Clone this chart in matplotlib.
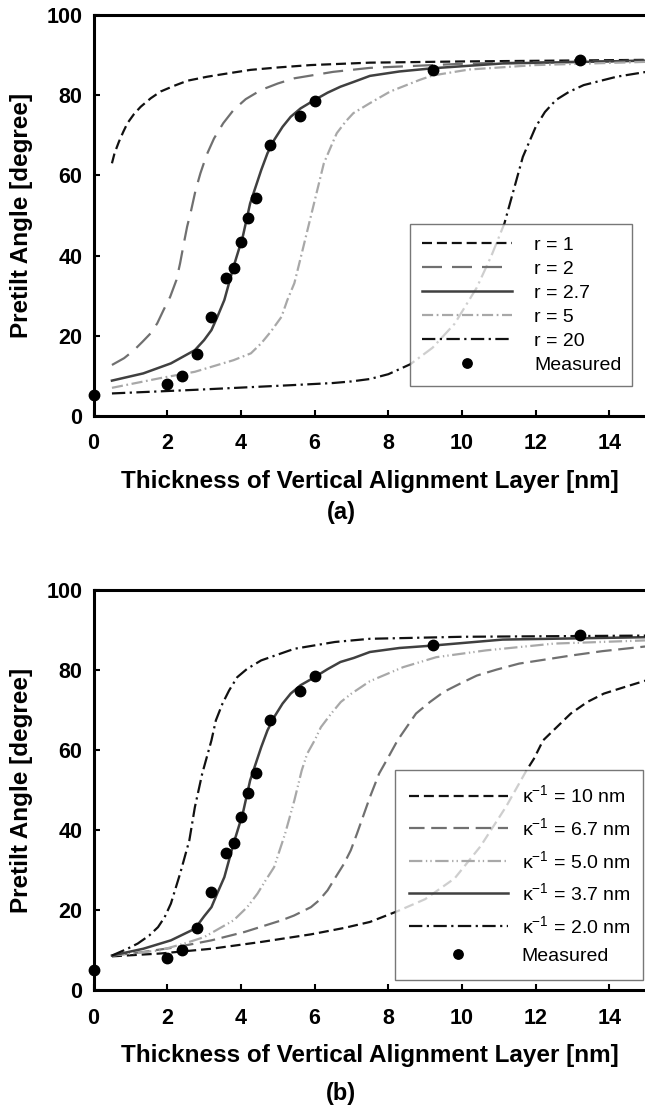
import numpy as np
import matplotlib
matplotlib.use('Agg')
import matplotlib.pyplot as plt

plt.rcParams['font.family'] = ['Liberation Sans', 'DejaVu Sans']
plt.rcParams['mathtext.fontset'] = 'custom'
plt.rcParams['mathtext.rm'] = 'Liberation Sans'
plt.rcParams['mathtext.it'] = 'Liberation Sans'
plt.rcParams['mathtext.default'] = 'regular'

## measured pretilt angle (same in both panels)
meas_x = [0, 2.0, 2.4, 2.8, 3.2, 3.6, 3.8, 4.0, 4.2, 4.4, 4.8, 5.6, 6.0, 9.2, 13.2]
meas_y = [5.1, 8.0, 10.0, 15.5, 24.7, 34.3, 36.8, 43.4, 49.3, 54.3, 67.6, 74.9, 78.5, 86.3, 88.8]

## panel (a): different r
x_r1 = [0.5, 0.57, 0.69, 0.81, 0.92, 1.1, 1.28, 1.55, 1.82, 2.18, 2.55, 3.09, 3.63, 4.26, 5.0, 5.9, 7.5, 10.0, 12.5, 15.0]
y_r1 = [63.0, 65.5, 68.4, 70.9, 73.0, 75.3, 77.1, 79.2, 80.9, 82.3, 83.6, 84.6, 85.4, 86.3, 86.9, 87.5, 88.1, 88.4, 88.6, 88.8]

x_r2 = [0.5, 0.83, 1.1, 1.33, 1.55, 1.73, 1.9, 2.08, 2.25, 2.35, 2.45, 2.54, 2.65, 2.77, 2.9, 3.07, 3.27,
        3.52, 3.8, 4.13, 4.55, 5.0, 5.45, 6.5, 7.5, 10.2, 15.0]
y_r2 = [12.7, 14.4, 16.4, 18.5, 20.6, 23.1, 26.4, 29.7, 33.9, 38.1, 43.0, 47.2, 51.3, 56.3, 60.5, 65.1, 69.2,
        73.0, 76.3, 79.0, 81.3, 82.9, 84.2, 85.8, 86.8, 87.9, 88.6]

x_r27 = [0.5, 1.35, 2.1, 2.75, 3.0, 3.2, 3.36, 3.55, 3.8, 4.05, 4.25, 4.55, 4.72, 4.9, 5.13, 5.35, 5.62,
         6.0, 6.35, 6.7, 7.06, 7.5, 8.3, 9.2, 11.1, 15.0]
y_r27 = [8.8, 10.6, 13.1, 16.4, 18.9, 21.4, 24.7, 28.9, 37.2, 44.7, 53.0, 61.3, 65.5, 68.8, 72.1, 74.6, 76.7,
         78.8, 80.6, 82.1, 83.3, 84.8, 85.9, 86.7, 87.9, 88.6]

x_r5 = [0.5, 1.8, 2.75, 3.8, 4.27, 4.55, 4.81, 5.1, 5.26, 5.45, 5.65, 5.85, 6.05, 6.25, 6.44, 6.6, 6.84,
        7.05, 7.5, 8.05, 8.85, 9.2, 10.2, 12.0, 15.0]
y_r5 = [7.0, 9.4, 11.0, 13.9, 15.6, 18.1, 21.0, 24.7, 28.9, 33.1, 40.5, 48.0, 55.5, 63.0, 67.1, 70.5, 73.4,
        75.5, 78.0, 80.9, 83.8, 84.9, 86.4, 87.5, 88.3]

x_r20 = [0.5, 2.75, 5.45, 6.5, 7.0, 7.5, 8.0, 8.6, 9.2, 9.8, 10.4, 10.8, 11.15, 11.4, 11.65, 12.0, 12.25,
         12.55, 12.9, 13.3, 14.2, 15.0]
y_r20 = [5.6, 6.5, 7.7, 8.2, 8.6, 9.2, 10.4, 12.9, 17.0, 23.0, 32.0, 40.0, 48.0, 56.3, 64.6, 72.1, 75.8,
         78.8, 80.8, 82.5, 84.6, 85.8]

## panel (b): different screening length
x_k10 = [0.5, 1.8, 3.2, 4.55, 5.9, 6.8, 7.5, 8.25, 9.0, 9.8, 10.5, 11.2, 11.75, 11.95, 12.2, 12.95, 13.4,
         13.85, 14.4, 15.0]
y_k10 = [8.5, 9.2, 10.4, 12.1, 14.0, 15.6, 17.1, 19.8, 22.8, 28.0, 36.0, 46.0, 55.0, 57.9, 62.5, 69.2, 72.1,
         74.2, 75.8, 77.5]

x_k67 = [0.5, 1.35, 2.25, 3.2, 4.1, 5.1, 5.44, 5.9, 6.12, 6.35, 6.57, 6.8, 6.98, 7.15, 7.5, 7.75, 8.0,
         8.25, 8.75, 9.13, 9.5, 9.95, 10.4, 10.94, 11.55, 12.95, 13.8, 15.0]
y_k67 = [8.7, 9.6, 10.8, 12.5, 14.6, 17.5, 18.7, 20.8, 22.5, 25.0, 28.3, 31.7, 35.0, 39.2, 48.3, 54.2, 58.3,
         62.5, 69.2, 72.1, 74.6, 76.7, 78.7, 80.2, 81.7, 83.7, 84.8, 86.0]

x_k50 = [0.5, 1.8, 2.46, 3.0, 3.8, 4.17, 4.45, 4.67, 4.9, 5.2, 5.45, 5.65, 5.8, 6.0, 6.17, 6.45, 6.71,
         7.0, 7.5, 8.4, 9.3, 10.65, 12.5, 15.0]
y_k50 = [8.7, 10.0, 11.7, 13.3, 17.5, 20.8, 24.2, 27.5, 30.8, 39.2, 47.5, 55.0, 59.2, 62.5, 65.8, 69.2, 72.1,
         74.2, 77.3, 80.8, 83.3, 85.0, 86.7, 87.5]

x_k37 = [0.5, 1.35, 2.1, 2.75, 3.0, 3.2, 3.36, 3.55, 3.8, 4.05, 4.25, 4.55, 4.72, 4.9, 5.13, 5.35, 5.62,
         6.0, 6.35, 6.7, 7.06, 7.5, 8.3, 9.2, 11.1, 15.0]
y_k37 = [8.7, 10.4, 12.5, 15.4, 18.5, 20.8, 24.3, 28.3, 36.7, 44.2, 52.5, 60.8, 65.0, 68.3, 71.7, 74.2, 76.3,
         78.3, 80.3, 82.1, 83.1, 84.6, 85.6, 86.2, 87.7, 88.3]

x_k20 = [0.5, 0.92, 1.2, 1.51, 1.75, 1.93, 2.1, 2.35, 2.6, 2.75, 2.95, 3.2, 3.32, 3.5, 3.68, 3.9, 4.17,
         4.55, 5.45, 6.55, 7.5, 10.0, 15.0]
y_k20 = [8.7, 10.4, 11.7, 13.7, 15.8, 18.3, 21.7, 29.2, 37.5, 45.8, 54.2, 62.5, 67.5, 71.7, 75.0, 78.3, 80.4,
         82.5, 85.4, 87.1, 87.9, 88.4, 88.7]

labels_a = ['r = 1', 'r = 2', 'r = 2.7', 'r = 5', 'r = 20']
labels_b = [r'$\kappa^{-1}$ = 10 nm', r'$\kappa^{-1}$ = 6.7 nm', r'$\kappa^{-1}$ = 5.0 nm',
            r'$\kappa^{-1}$ = 3.7 nm', r'$\kappa^{-1}$ = 2.0 nm']

fig = plt.figure(figsize=(6.45, 11.15), dpi=100)
ax1 = fig.add_axes([0.145, 0.627, 0.857, 0.3596])
ax2 = fig.add_axes([0.145, 0.1118, 0.857, 0.3587])

lw = 1.6
black, mid, dark, light = '#111111', '#707070', '#404040', '#a8a8a8'

# panel (a)
ax1.plot(x_r1, y_r1, color=black, lw=lw, dashes=(4.5, 2.2), label=labels_a[0])
ax1.plot(x_r2, y_r2, color=mid, lw=lw, dashes=(9, 4.5), label=labels_a[1])
ax1.plot(x_r27, y_r27, color=dark, lw=1.8, label=labels_a[2])
ax1.plot(x_r5, y_r5, color=light, lw=lw, dashes=(5, 1.6, 0.8, 1.6), label=labels_a[3])
ax1.plot(x_r20, y_r20, color=black, lw=lw, dashes=(6, 2, 1, 2), label=labels_a[4])
ax1.plot(meas_x, meas_y, 'o', color='black', ms=7.5, label='Measured', clip_on=False, zorder=5)

# panel (b)
ax2.plot(x_k10, y_k10, color=black, lw=lw, dashes=(4.5, 2.2), label=labels_b[0])
ax2.plot(x_k67, y_k67, color=mid, lw=lw, dashes=(7, 3), label=labels_b[1])
ax2.plot(x_k50, y_k50, color=light, lw=lw, dashes=(6, 1.6, 0.6, 1.4, 0.6, 1.6), label=labels_b[2])
ax2.plot(x_k37, y_k37, color=dark, lw=1.8, label=labels_b[3])
ax2.plot(x_k20, y_k20, color=black, lw=lw, dashes=(6, 2, 1, 2), label=labels_b[4])
ax2.plot(meas_x, meas_y, 'o', color='black', ms=7.5, label='Measured', clip_on=False, zorder=5)

for ax in (ax1, ax2):
    ax.set_xlim(0, 15)
    ax.set_ylim(0, 100)
    ax.set_xticks(np.arange(0, 15, 2))
    ax.set_yticks(np.arange(0, 101, 20))
    for s in ['left', 'bottom', 'top']:
        ax.spines[s].set_linewidth(2.2)
    ax.spines['right'].set_visible(False)
    ax.tick_params(direction='in', length=4.5, width=1.5, labelsize=15.5)
    ax.tick_params(axis='x', pad=12.5)
    ax.tick_params(axis='y', pad=8)
    for t in ax.get_xticklabels() + ax.get_yticklabels():
        t.set_fontweight('bold')
    ax.set_xlabel('Thickness of Vertical Alignment Layer [nm]', fontsize=17.5,
                  fontweight='bold', labelpad=11)
    ax.set_ylabel('Pretilt Angle [degree]', fontsize=17.5, fontweight='bold', labelpad=10)

leg1 = ax1.legend(loc='upper left', bbox_to_anchor=(0.5725, 0.4786, 0.4015, 0), mode='expand',
                  borderaxespad=0, fontsize=14, frameon=True, fancybox=False,
                  handlelength=4.64, handletextpad=1.13, labelspacing=0.33, borderpad=0.62,
                  markerscale=0.9)
leg2 = ax2.legend(loc='upper left', bbox_to_anchor=(0.545, 0.551, 0.449, 0), mode='expand',
                  borderaxespad=0, fontsize=14, frameon=True, fancybox=False,
                  handlelength=5.05, handletextpad=0.72, labelspacing=0.55, borderpad=0.75,
                  markerscale=0.9)
for leg in (leg1, leg2):
    leg.get_frame().set_edgecolor('#555555')
    leg.get_frame().set_linewidth(1.0)
    leg.set_zorder(10)

fig.text(0.529, 0.540, '(a)', ha='center', va='center', fontsize=17, fontweight='bold')
fig.text(0.529, 0.019, '(b)', ha='center', va='center', fontsize=17, fontweight='bold')

plt.savefig('out.png', dpi=100)
